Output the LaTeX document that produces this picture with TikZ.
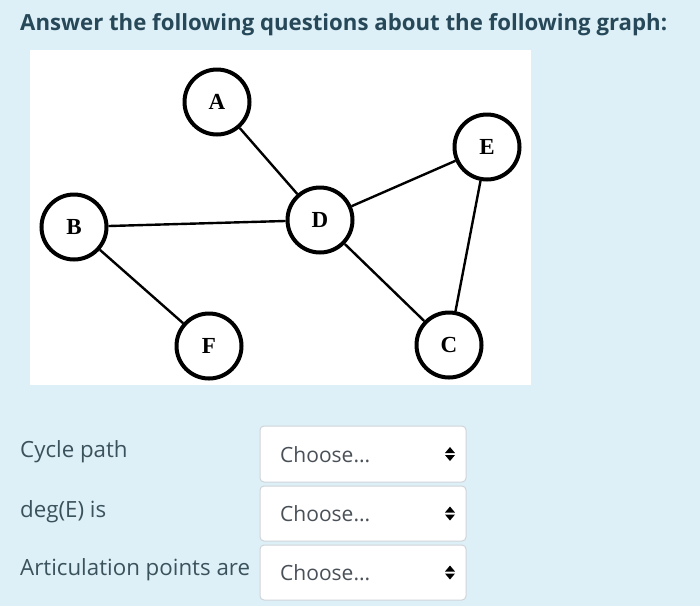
\documentclass[tikz,border=0pt]{standalone}
\usepackage{fontspec}
\setmainfont{Open Sans}
\newfontfamily\serifnode{Liberation Serif}
\definecolor{bgblue}{RGB}{222,240,247}
\definecolor{titlecol}{RGB}{38,72,88}
\definecolor{labcol}{RGB}{58,82,92}
\definecolor{boxborder}{RGB}{206,212,218}
\definecolor{choosecol}{RGB}{73,80,87}
\begin{document}
\begin{tikzpicture}[x=1pt,y=-1pt,
  vert/.style={circle,draw=black,line width=4pt,fill=white,minimum size=65pt,inner sep=0pt,font=\serifnode\bfseries\fontsize{23}{23}\selectfont},
  edge/.style={line width=2.4pt,black},
  qlabel/.style={anchor=base west,text=labcol,font=\fontsize{22.3}{25}\selectfont,inner sep=0pt},
  selbox/.style={draw=boxborder,line width=1pt,fill=white,rounded corners=4pt},
  choose/.style={anchor=base west,text=choosecol,font=\fontsize{21}{24}\selectfont,inner sep=0pt}]
\useasboundingbox (0,0) rectangle (700,606);
\fill[bgblue] (0,0) rectangle (700,606);
\node[anchor=base west,inner sep=0pt,text=titlecol,font=\bfseries\fontsize{22.2}{26}\selectfont] (title) at (20,30) {Answer the following questions about the following graph:};
\fill[white] (30,50) rectangle (531,385);
\node[vert] (A) at (217,102) {A};
\node[vert] (E) at (487,147) {E};
\node[vert] (B) at (74,227) {B};
\node[vert] (D) at (320,220) {D};
\node[vert] (F) at (209,346) {F};
\node[vert] (C) at (449,345) {C};
\draw[edge] (A) -- (D);
\draw[edge] (D) -- (E);
\draw[edge] (B) -- (D);
\draw[edge] (B) -- (F);
\draw[edge] (D) -- (C);
\draw[edge] (E) -- (C);
\node[qlabel] (q1) at (20,457) {Cycle path};
\node[qlabel] (q2) at (20,517) {deg(E) is};
\node[qlabel] (q3) at (20,575) {Articulation points are};
\foreach \i/\top/\bot in {1/426/482,2/486/541,3/545/600}{
  \draw[selbox] (260,\top) rectangle (466,\bot);
  \node[choose] (c\i) at (280,{(\top+\bot)/2+8}) {Choose...};
  \fill[black] (445,{(\top+\bot)/2-1}) -- (455,{(\top+\bot)/2-1}) -- (450,{(\top+\bot)/2-7}) -- cycle;
  \fill[black] (445,{(\top+\bot)/2+1}) -- (455,{(\top+\bot)/2+1}) -- (450,{(\top+\bot)/2+7}) -- cycle;
}
\end{tikzpicture}
\end{document}
